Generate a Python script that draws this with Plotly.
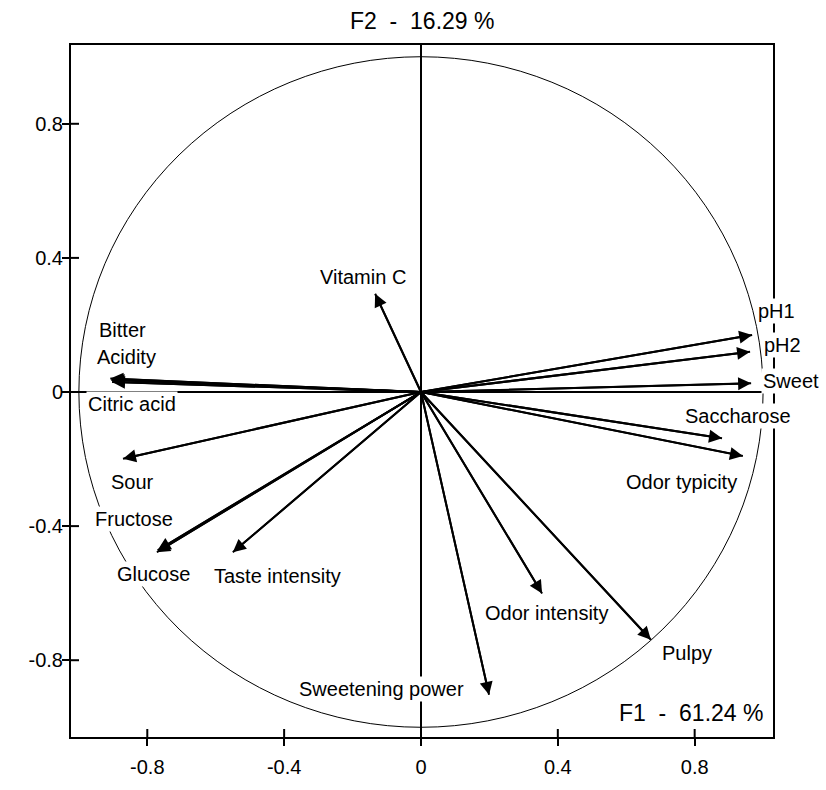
import plotly.graph_objects as go

# Correlation circle: variable loadings on F1 / F2
variables = ["pH1", "pH2", "Sweet", "Saccharose", "Odor typicity", "Pulpy",
             "Odor intensity", "Sweetening power", "Taste intensity", "Glucose",
             "Fructose", "Sour", "Citric acid", "Acidity", "Bitter", "Vitamin C"]
f1 = [0.968, 0.962, 0.965, 0.880, 0.941, 0.672, 0.354, 0.199, -0.550, -0.772,
      -0.770, -0.871, -0.903, -0.905, -0.908, -0.134]
f2 = [0.170, 0.120, 0.026, -0.138, -0.191, -0.739, -0.601, -0.903, -0.478, -0.478,
      -0.472, -0.199, 0.030, 0.036, 0.040, 0.293]

# label offsets from the arrow tip, in pixels (dx right, dy up)
label_dx = [24, 32, 40, 16, -61, 36, 4, -108, 45, -3, -24, 9, 20, 15, 12, -12]
label_dy = [24, 7, 2, 22, -26, -13, -19, 6, -24, -22, 31, -23, -22, 23, 49, 17]

tick_vals = [-0.8, -0.4, 0, 0.4, 0.8]
tick_text = ["-0.8", "-0.4", "0", "0.4", "0.8"]

f1_title = "F1\u00a0\u00a0-\u00a0\u00a061.24 %"
f2_title = "F2\u00a0\u00a0-\u00a0\u00a016.29 %"

x_range = [-1.023, 1.029]
y_range = [-1.029, 1.035]

FONT = "Liberation Sans, Arial, sans-serif"

fig = go.Figure()

# vector shafts
for name, vx, vy in zip(variables, f1, f2):
    fig.add_trace(go.Scatter(
        x=[0, vx], y=[0, vy], mode="lines",
        line=dict(color="black", width=2),
        showlegend=False, hoverinfo="skip", name=name,
    ))

# unit circle
fig.add_shape(type="circle", xref="x", yref="y", x0=-1, y0=-1, x1=1, y1=1,
              line=dict(color="black", width=1), layer="below")

# inner halves of the tick marks, so ticks cross the frame
for v in tick_vals:
    fig.add_shape(type="line", xref="x", yref="paper", ysizemode="pixel", yanchor=0,
                  x0=v, x1=v, y0=0, y1=8, line=dict(color="black", width=2))
    fig.add_shape(type="line", yref="y", xref="paper", xsizemode="pixel", xanchor=0,
                  y0=v, y1=v, x0=0, x1=8, line=dict(color="black", width=2))

# solid arrowheads at the vector tips
for vx, vy in zip(f1, f2):
    fig.add_annotation(x=vx, y=vy, xref="x", yref="y", ax=0, ay=0, axref="x", ayref="y",
                       text="", showarrow=True, arrowhead=2, arrowsize=1.3,
                       arrowwidth=2, arrowcolor="black")

for name, vx, vy, dx, dy in zip(variables, f1, f2, label_dx, label_dy):
    fig.add_annotation(x=vx, y=vy, xref="x", yref="y", text=name, showarrow=False,
                       xshift=dx, yshift=dy, font=dict(family=FONT, size=20, color="black"),
                       bgcolor="white", borderpad=1)

fig.add_annotation(xref="paper", yref="paper", x=1, y=0, xanchor="right", yanchor="middle",
                   xshift=-8, yshift=24, text=f1_title, showarrow=False,
                   font=dict(family=FONT, size=23, color="black"))
fig.add_annotation(xref="paper", yref="paper", x=0.5, y=1, xanchor="center", yanchor="middle",
                   yshift=24, text=f2_title, showarrow=False,
                   font=dict(family=FONT, size=23, color="black"))

axis_common = dict(showgrid=False, tickvals=tick_vals, ticktext=tick_text,
                   tickfont=dict(family=FONT, size=20, color="black"),
                   showline=True, mirror=True, linecolor="black", linewidth=2,
                   ticks="outside", ticklen=7, tickwidth=2, tickcolor="black",
                   zeroline=True, zerolinecolor="black", zerolinewidth=1.5)

fig.update_layout(
    width=826, height=790,
    margin=dict(l=71, r=53, t=45, b=41),
    paper_bgcolor="white", plot_bgcolor="white",
    font=dict(family=FONT, color="black"),
    xaxis=dict(range=x_range, ticklabelstandoff=4, **axis_common),
    yaxis=dict(range=y_range, ticklabelstandoff=-5, **axis_common),
)

fig.write_html("out.html")
